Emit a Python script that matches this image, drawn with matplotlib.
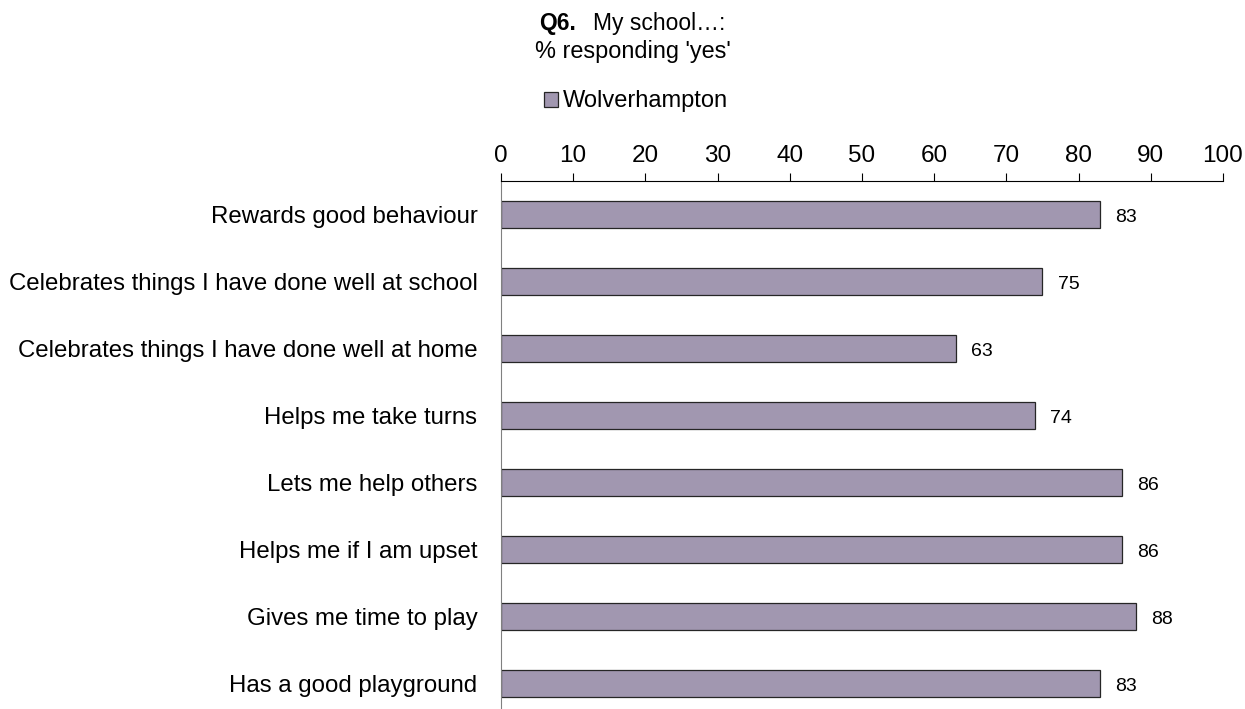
import matplotlib.pyplot as plt

# chart data
categories = ["Rewards good behaviour",
              "Celebrates things I have done well at school",
              "Celebrates things I have done well at home",
              "Helps me take turns",
              "Lets me help others",
              "Helps me if I am upset",
              "Gives me time to play",
              "Has a good playground"]
values = [83, 75, 63, 74, 86, 86, 88, 83]
series_name = "Wolverhampton"
xticks = list(range(0, 101, 10))

plt.rcParams['font.family'] = ['Liberation Sans', 'DejaVu Sans']

fig = plt.figure(figsize=(12.45, 7.09), dpi=100)
ax = fig.add_axes([0.4024, -0.0116, 0.5799, 0.7563])

pos = list(range(len(categories)))
bars = ax.barh(pos, values, height=0.41, color='#A197B0', edgecolor='#262626',
               linewidth=0.9, label=series_name)

# value labels, a touch below bar centre like the original
for p, v in zip(pos, values):
    ax.text(v + 2.1, p + 0.04, str(v), va='center', ha='left', fontsize=14)

ax.set_xlim(0, 100)
ax.set_ylim(len(categories) - 0.5, -0.5)
ax.set_yticks(pos)
ax.set_yticklabels(categories, fontsize=17.3)
ax.set_xticks(xticks)
ax.xaxis.tick_top()
ax.tick_params(axis='x', direction='out', length=6, labelsize=17.5, pad=4)
ax.tick_params(axis='y', length=0, pad=17)

ax.spines['right'].set_visible(False)
ax.spines['bottom'].set_visible(False)
ax.spines['top'].set_color('black')
ax.spines['left'].set_color('#808080')

# title
fig.text(576 / 1245, 0.967, "Q6.", ha='right', va='center', fontsize=16.5, fontweight='bold')
fig.text(593 / 1245, 0.967, "My school…:", ha='left', va='center', fontsize=16.5)
fig.text(0.5085, 0.927, "% responding 'yes'", ha='center', va='center', fontsize=16.9)

ax.legend(loc='center', bbox_to_anchor=(0.511, 0.857), bbox_transform=fig.transFigure,
          frameon=False, fontsize=17, handlelength=0.6, handleheight=0.6,
          handletextpad=0.2, borderpad=0)

fig.savefig('out.png', dpi=100)
